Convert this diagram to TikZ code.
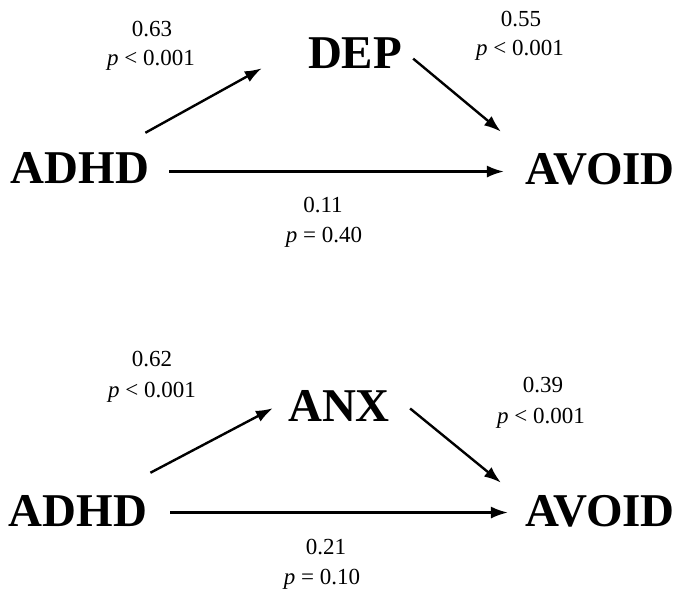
\documentclass[tikz,border=0pt]{standalone}
\usepackage{fontspec}
\setmainfont{Liberation Serif}
\usetikzlibrary{arrows.meta}

\tikzset{
  var/.style={inner sep=0pt, anchor=base, font=\fontsize{47}{56}\selectfont\bfseries},
  coef/.style={inner sep=0pt, anchor=base, font=\fontsize{23}{28}\selectfont},
  path arrow/.style={line width=2.4pt, -{Latex[length=17pt,width=12pt]}}
}

\begin{document}
\begin{tikzpicture}[x=1pt,y=-1pt]
  \useasboundingbox[fill=white] (0,0) rectangle (681,593);

  % ---- model 1: depression as mediator ----
  \node[var] (adhdA)  at (80,184)  {ADHD};
  \node[var] (dep)    at (355,69)  {DEP};
  \node[var] (avoidA) at (600,185) {AVOID};

  \draw[path arrow] ([shift={(-4,-20)}]adhdA.north east) -- ([shift={(-46,-1)}]dep.south west);
  \draw[path arrow] ([shift={(11,5)}]dep.east) -- ([shift={(-24,-22)}]avoidA.north west);
  \draw[path arrow] ([shift={(20,3)}]adhdA.east) -- ([shift={(-21,3)}]adhdA.east -| avoidA.west);

  \node[coef] (aA)  at (152,37)  {0.63};
  \node[coef] (paA) at (151,66)  {\textit{p} < 0.001};
  \node[coef] (bA)  at (521,27)  {0.55};
  \node[coef] (pbA) at (520,56)  {\textit{p} < 0.001};
  \node[coef] (cA)  at (323,213) {0.11};
  \node[coef] (pcA) at (324,243) {\textit{p} = 0.40};

  % ---- model 2: anxiety as mediator ----
  \node[var] (adhdB)  at (78,527)  {ADHD};
  \node[var] (anx)    at (339,422) {ANX};
  \node[var] (avoidB) at (600,527) {AVOID};

  \draw[path arrow] ([shift={(3,-23)}]adhdB.north east) -- ([shift={(-15,-14)}]anx.south west);
  \draw[path arrow] ([shift={(20,2)}]anx.east) -- ([shift={(-24,-13)}]avoidB.north west);
  \draw[path arrow] ([shift={(23,1)}]adhdB.east) -- ([shift={(-17,1)}]adhdB.east -| avoidB.west);

  \node[coef] (aB)  at (152,367) {0.62};
  \node[coef] (paB) at (152,398) {\textit{p} < 0.001};
  \node[coef] (bB)  at (543,393) {0.39};
  \node[coef] (pbB) at (541,424) {\textit{p} < 0.001};
  \node[coef] (cB)  at (326,555) {0.21};
  \node[coef] (pcB) at (322,585) {\textit{p} = 0.10};
\end{tikzpicture}
\end{document}
